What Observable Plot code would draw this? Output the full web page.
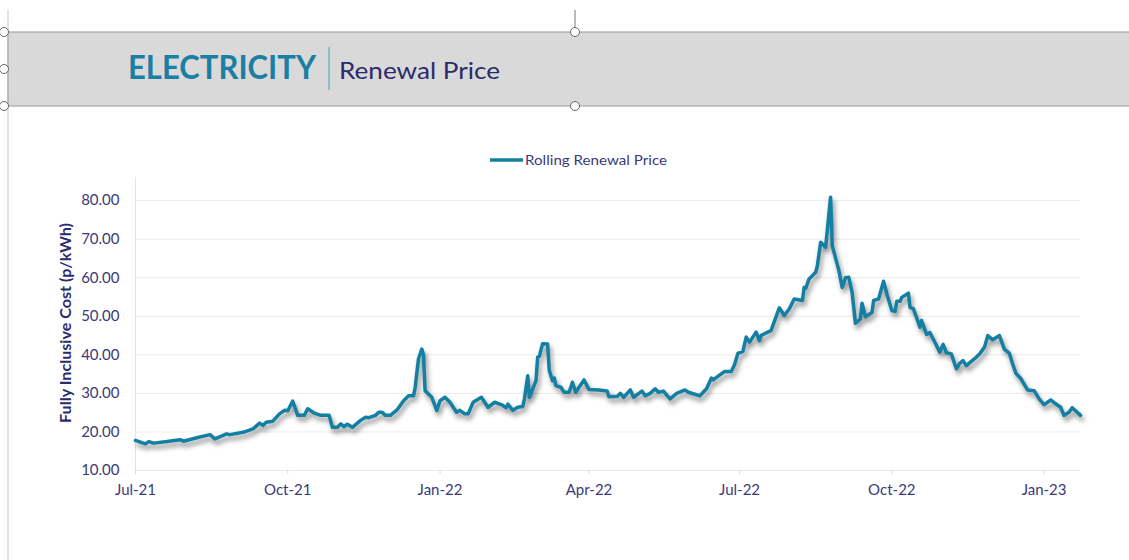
<!DOCTYPE html>
<html>
<head>
<meta charset="utf-8">
<script src="https://cdn.jsdelivr.net/npm/d3@7"></script>
<script src="https://cdn.jsdelivr.net/npm/@observablehq/plot@0.6"></script>
<style>
  html, body { margin: 0; padding: 0; background: #fff; }
  #page { position: relative; width: 1129px; height: 560px; overflow: hidden; font-family: Lato, "Open Sans", sans-serif; }
  #deco { position: absolute; left: 0; top: 0; }
  #chart { position: absolute; left: 0; top: 170px; }
  #chart g[aria-label="line"] path { filter: drop-shadow(2px 4px 2.5px rgba(0,0,0,0.45)); }
</style>
</head>
<body>
<div id="page">
  <div id="chart"></div>
  <svg id="deco" width="1129" height="560">
    <line x1="8" y1="10" x2="8" y2="560" stroke="#c8c8c8" stroke-width="1"/>
    <line x1="575" y1="10" x2="575" y2="28" stroke="#777" stroke-width="1"/>
    <rect x="8" y="32" width="1125" height="74" fill="#d9d9d9" stroke="#9a9a9a" stroke-width="1"/>
    <circle cx="4" cy="32" r="4.5" fill="#fff" stroke="#666"/>
    <circle cx="4" cy="69" r="4.5" fill="#fff" stroke="#666"/>
    <circle cx="4" cy="106" r="4.5" fill="#fff" stroke="#666"/>
    <circle cx="575" cy="32" r="4.5" fill="#fff" stroke="#666"/>
    <circle cx="575" cy="106" r="4.5" fill="#fff" stroke="#666"/>
    <text x="128" y="79" textLength="188" lengthAdjust="spacingAndGlyphs" font-family="Lato, sans-serif" font-weight="bold" font-size="33" fill="#1a7fa3">ELECTRICITY</text>
    <line x1="329" y1="47" x2="329" y2="90" stroke="#5aa5c3" stroke-width="1.2"/>
    <text x="339" y="79" textLength="161" lengthAdjust="spacingAndGlyphs" font-family="Lato, sans-serif" font-size="24" fill="#2b2b6b">Renewal Price</text>
    <line x1="490" y1="160" x2="523" y2="160" stroke="#137fa3" stroke-width="3.4"/>
    <text x="525" y="165" textLength="142" lengthAdjust="spacingAndGlyphs" font-family="Lato, sans-serif" font-size="13.5" fill="#3a3a7a">Rolling Renewal Price</text>
    <text transform="translate(71,323) rotate(-90)" text-anchor="middle" textLength="200" lengthAdjust="spacingAndGlyphs" font-family="Lato, sans-serif" font-weight="bold" font-size="15" fill="#2b2b6e">Fully Inclusive Cost (p/kWh)</text>
  </svg>
</div>
<script>
const dates = [
  "2021-07-01","2021-07-07","2021-07-09","2021-07-12","2021-07-20","2021-07-28","2021-07-30","2021-08-07","2021-08-15","2021-08-18",
  "2021-08-25","2021-08-27","2021-09-04","2021-09-10","2021-09-14","2021-09-16","2021-09-18","2021-09-22","2021-09-26","2021-09-29",
  "2021-10-01","2021-10-04","2021-10-07","2021-10-11","2021-10-13","2021-10-17","2021-10-21","2021-10-26","2021-10-28","2021-10-31",
  "2021-11-02","2021-11-04","2021-11-06","2021-11-09","2021-11-14","2021-11-17","2021-11-19","2021-11-23","2021-11-25","2021-11-27",
  "2021-11-29","2021-12-02","2021-12-06","2021-12-10","2021-12-13","2021-12-16","2021-12-17","2021-12-19","2021-12-21","2021-12-22",
  "2021-12-23","2021-12-27","2021-12-30","2022-01-01","2022-01-04","2022-01-07","2022-01-11","2022-01-13","2022-01-16","2022-01-18",
  "2022-01-21","2022-01-26","2022-01-30","2022-02-03","2022-02-07","2022-02-10","2022-02-11","2022-02-14","2022-02-17","2022-02-20",
  "2022-02-21","2022-02-23","2022-02-24","2022-02-28","2022-03-01","2022-03-02","2022-03-04","2022-03-07","2022-03-08","2022-03-10",
  "2022-03-11","2022-03-12","2022-03-15","2022-03-17","2022-03-20","2022-03-22","2022-03-24","2022-03-29","2022-04-01","2022-04-07",
  "2022-04-12","2022-04-13","2022-04-18","2022-04-20","2022-04-22","2022-04-26","2022-04-28","2022-05-03","2022-05-05","2022-05-08",
  "2022-05-11","2022-05-13","2022-05-16","2022-05-20","2022-05-24","2022-05-29","2022-05-31","2022-06-07","2022-06-11","2022-06-14",
  "2022-06-15","2022-06-22","2022-06-26","2022-06-28","2022-06-30","2022-07-03","2022-07-05","2022-07-07","2022-07-11","2022-07-13",
  "2022-07-14","2022-07-18","2022-07-20","2022-07-25","2022-07-28","2022-07-31","2022-08-03","2022-08-08","2022-08-09","2022-08-10",
  "2022-08-12","2022-08-16","2022-08-17","2022-08-19","2022-08-22","2022-08-25","2022-08-26","2022-08-30","2022-09-01","2022-09-03",
  "2022-09-05","2022-09-07","2022-09-09","2022-09-12","2022-09-13","2022-09-15","2022-09-19","2022-09-20","2022-09-23","2022-09-26",
  "2022-09-28","2022-10-01","2022-10-03","2022-10-04","2022-10-06","2022-10-07","2022-10-11","2022-10-12","2022-10-14","2022-10-18",
  "2022-10-19","2022-10-22","2022-10-24","2022-10-26","2022-10-30","2022-11-01","2022-11-03","2022-11-06","2022-11-09","2022-11-11",
  "2022-11-13","2022-11-15","2022-11-20","2022-11-23","2022-11-26","2022-11-28","2022-12-01","2022-12-05","2022-12-08","2022-12-11",
  "2022-12-13","2022-12-15","2022-12-18","2022-12-22","2022-12-26","2022-12-29","2023-01-01","2023-01-05","2023-01-08","2023-01-11",
  "2023-01-13","2023-01-16","2023-01-18","2023-01-20","2023-01-23"
];
const prices = [
  17.8,16.9,17.5,17.1,17.5,18.0,17.6,18.5,19.3,18.2,
  19.5,19.3,19.9,20.8,22.3,21.7,22.5,22.8,24.7,25.6,
  25.5,28.0,24.3,24.3,26.0,24.9,24.3,24.3,21.2,21.2,
  22.1,21.4,22.0,21.2,23.0,23.8,23.7,24.3,25.1,25.1,
  24.3,24.3,25.7,28.1,29.4,29.4,31.6,39.0,41.5,40.0,
  30.7,29.0,25.6,28.1,29.0,27.7,25.1,25.6,24.7,24.7,
  27.7,29.0,26.4,27.7,27.1,26.3,27.2,25.6,26.4,26.6,
  28.6,34.6,29.0,33.3,39.4,39.6,42.9,42.8,36.0,33.3,
  34.0,32.0,31.6,30.3,30.3,32.9,30.3,33.5,31.0,30.9,
  30.6,29.2,29.2,30.0,29.0,30.9,29.0,30.6,29.4,30.0,
  31.2,30.3,30.6,28.6,30.0,30.9,30.3,29.4,31.2,34.0,
  33.5,35.7,35.7,37.5,40.4,40.9,44.6,43.3,45.9,43.7,
  45.0,45.9,46.3,52.2,50.2,51.9,54.5,54.1,57.5,57.3,
  59.7,61.4,63.1,69.2,67.9,80.9,68.3,61.9,57.5,60.0,
  60.1,56.2,48.2,49.3,53.4,49.9,51.0,54.1,54.5,59.1,
  55.8,51.5,51.3,53.9,53.9,54.9,56.0,52.3,52.0,47.2,
  48.9,45.3,45.8,44.1,40.7,42.7,40.5,40.2,36.4,37.8,
  38.5,37.2,39.0,40.2,42.0,45.0,43.9,45.0,41.5,40.4,
  37.6,35.2,33.8,30.9,30.7,28.6,27.1,28.3,27.3,26.4,
  24.3,25.1,26.3,25.5,24.3
];
const xTicks = ["2021-07-01","2021-10-01","2022-01-01","2022-04-01","2022-07-01","2022-10-01","2023-01-01"];
const yTicks = [10, 20, 30, 40, 50, 60, 70, 80];

const parse = d3.utcParse("%Y-%m-%d");
const data = dates.map((d, i) => ({date: parse(d), price: prices[i]}));
const xDomain = [data[0].date, data[data.length - 1].date];

const chart = Plot.plot({
  width: 1129,
  height: 330,
  marginLeft: 135,
  marginRight: 49,
  marginTop: 7,
  marginBottom: 30,
  style: {fontFamily: "Lato, sans-serif", fontSize: "15px", color: "#3a3a78", background: "transparent"},
  x: {type: "utc", domain: xDomain},
  y: {domain: [10, 86]},
  marks: [
    Plot.gridY(yTicks, {stroke: "#ebebeb", strokeOpacity: 1}),
    Plot.ruleX([xDomain[0]], {stroke: "#e4e4e4", strokeOpacity: 1}),
    Plot.axisY(yTicks, {tickSize: 0, tickPadding: 16, tickFormat: d => d.toFixed(2), fill: "#3a3a78", label: null}),
    Plot.axisX(xTicks.map(parse), {tickSize: 4, tickPadding: 10, stroke: "#d9d9d9", tickFormat: d3.utcFormat("%b-%y"), fill: "#3a3a78", label: null}),
    Plot.line(data, {x: "date", y: "price", stroke: "#137fa3", strokeWidth: 3.5, strokeLinejoin: "round"})
  ]
});
document.getElementById("chart").appendChild(chart);
</script>
</body>
</html>
